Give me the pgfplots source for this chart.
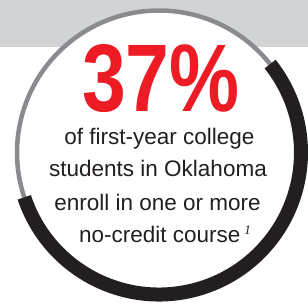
\documentclass[border=0pt]{standalone}
\usepackage{pgfplots}
\pgfplotsset{compat=1.18}
\usepackage{fontspec}
\setmainfont{Liberation Sans}
\newfontfamily\serifit{Liberation Serif}
\definecolor{band}{HTML}{D1D3D4}
\definecolor{greyarc}{HTML}{898B8E}
\definecolor{blk}{HTML}{231F20}
\definecolor{redtxt}{HTML}{ED1C24}
\begin{document}
\begin{tikzpicture}
\begin{axis}[x=1pt,y=1pt,xmin=0,xmax=308,ymin=0,ymax=303,hide axis,clip=true]
\fill[band] (axis cs:0,256) rectangle (axis cs:308,303);
\fill[white] (axis cs:159,150.5) circle[radius=142pt];
\draw[greyarc,line width=4.5pt] (axis cs:159,150.5) ++(38.5:142pt) arc[start angle=38.5,end angle=198.4,radius=142pt];
\draw[blk,line width=14pt] (axis cs:159,150.5) ++(198.4:142pt) arc[start angle=198.4,end angle=398.5,radius=142pt];
\node[anchor=base,inner sep=0pt,text depth=0pt,text height=69pt,text=redtxt,font=\fontsize{96}{96}\selectfont\bfseries] at (axis cs:161,191) {\scalebox{0.82}[1]{37\%}};
\node[anchor=base,inner sep=0pt,text=blk,font=\fontsize{22.5}{26}\selectfont] at (axis cs:159.5,158) {of first-year college};
\node[anchor=base,inner sep=0pt,text=blk,font=\fontsize{22.5}{26}\selectfont] at (axis cs:158,126) {students in Oklahoma};
\node[anchor=base,inner sep=0pt,text=blk,font=\fontsize{22.5}{26}\selectfont] at (axis cs:157.5,93) {enroll in one or more};
\node[anchor=base west,inner sep=0pt,text=blk,font=\fontsize{22.5}{26}\selectfont] at (axis cs:79,61) {no-credit course\,\raisebox{8pt}{\fontsize{13}{13}\selectfont\serifit\itshape 1}};
\end{axis}
\pgfresetboundingbox
\useasboundingbox (current axis.south west) rectangle (current axis.north east);
\end{tikzpicture}
\end{document}
